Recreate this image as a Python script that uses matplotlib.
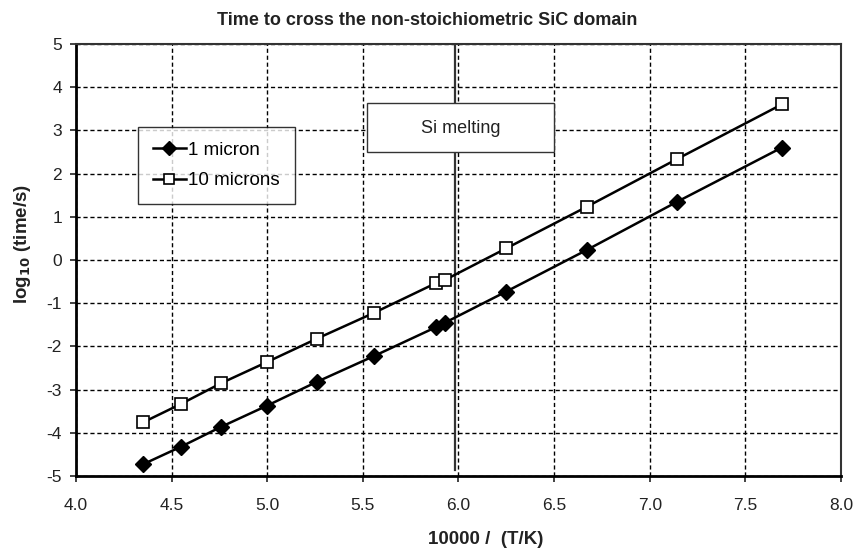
import matplotlib
matplotlib.use('Agg')
import matplotlib.pyplot as plt
from matplotlib.patches import Rectangle

plt.rcParams['font.family'] = ['Liberation Sans', 'DejaVu Sans']
plt.rcParams['axes.unicode_minus'] = False

# data (10000/T and log10 time)
x_vals = [4.35, 4.55, 4.76, 5.0, 5.26, 5.56, 5.88, 5.93, 6.25, 6.67, 7.14, 7.69]
one_micron = [-4.73, -4.32, -3.86, -3.37, -2.82, -2.22, -1.56, -1.45, -0.73, 0.23, 1.34, 2.60]
ten_microns = [-3.76, -3.33, -2.85, -2.36, -1.82, -1.22, -0.54, -0.46, 0.27, 1.23, 2.33, 3.60]
si_melt_x = 5.98
xticks = [4.0, 4.5, 5.0, 5.5, 6.0, 6.5, 7.0, 7.5, 8.0]
yticks = [-5, -4, -3, -2, -1, 0, 1, 2, 3, 4, 5]

fig = plt.figure(figsize=(8.55, 5.49), dpi=100)
ax = fig.add_axes([0.0889, 0.133, 0.8947, 0.7869])

ax.plot(x_vals, one_micron, color='black', lw=1.8, marker='D', ms=8,
        mfc='black', mec='black', label='1 micron', zorder=4)
ax.plot(x_vals, ten_microns, color='black', lw=1.8, marker='s', ms=8,
        mfc='white', mec='black', mew=1.2, label='10 microns', zorder=4)

# Si melting line + label box
ax.plot([si_melt_x, si_melt_x], [-4.85, 5], color='#333333', lw=1.6, zorder=3)
ax.add_patch(Rectangle((5.52, 2.5), 0.98, 1.13, facecolor='white',
                       edgecolor='#333333', lw=1, zorder=4.5))
ax.text(6.01, 3.05, 'Si melting', ha='center', va='center', fontsize=13,
        color='#222222', zorder=5)

ax.set_xlim(4.0, 8.0)
ax.set_ylim(-5, 5)
ax.set_xticks(xticks)
ax.set_yticks(yticks)
ax.set_xticklabels(['%.1f' % v for v in xticks])
ax.grid(True, color='black', ls=(0, (3, 2)), lw=1)
ax.tick_params(labelsize=12.5, colors='#222222', direction='out', length=4, width=1.2)
ax.tick_params(axis='x', pad=12)
ax.tick_params(axis='y', pad=6)

for side in ['left', 'bottom']:
    ax.spines[side].set_linewidth(2)
for side in ['top', 'right']:
    ax.spines[side].set_linewidth(1.5)
    ax.spines[side].set_color('#333333')

fig.text(0.5, 0.963, 'Time to cross the non-stoichiometric SiC domain', fontsize=13,
         fontweight='bold', ha='center', va='center', color='#222222')
ax.set_xlabel('10000 /  (T/K)', fontsize=13.5, fontweight='bold', color='#222222')
ax.xaxis.set_label_coords((486 - 76) / 765, -0.128)
ax.set_ylabel('log$_{\\mathbf{10}}$ (time/s)', fontsize=13.5, fontweight='bold', color='#222222')
ax.yaxis.set_label_coords(-0.056, (476 - 244) / 432)

leg = ax.legend(loc='upper left', bbox_to_anchor=(0.081, 0.808), fontsize=13.5,
                frameon=True, fancybox=False, edgecolor='black', handlelength=1.75,
                labelspacing=0.7, borderpad=0.8, handletextpad=0.12, markerscale=0.85,
                borderaxespad=0)
leg.get_frame().set_linewidth(1)

fig.savefig('out.png', dpi=100)
